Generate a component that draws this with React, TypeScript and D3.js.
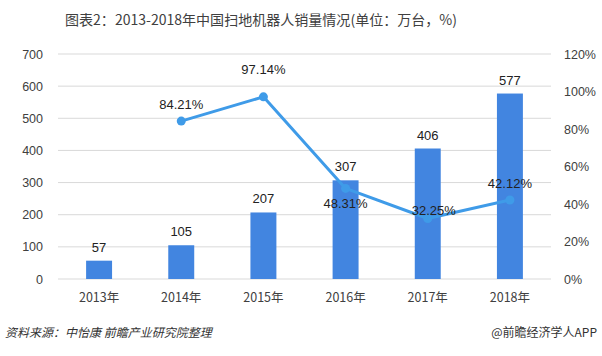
import React from "react";
import * as d3 from "d3";

const categories = ["2013年", "2014年", "2015年", "2016年", "2017年", "2018年"];
const sales = [57, 105, 207, 307, 406, 577];
const growth: (number | null)[] = [null, 84.21, 97.14, 48.31, 32.25, 42.12];
const leftTicks = [0, 100, 200, 300, 400, 500, 600, 700];
const rightTicks = [0, 20, 40, 60, 80, 100, 120];
// label offsets (dx, dy) relative to point for growth labels
const growthLabelPos = [
  [0, 0],
  [0, -17],
  [0, -27],
  [0, 15],
  [6, -8],
  [0, -17],
];

const W = 602;
const H = 356;
const M = { left: 58, right: 551, top: 54, bottom: 279 };
const FONT = "'Noto Sans CJK SC', 'Microsoft YaHei', sans-serif";
const NUMFONT = "'Liberation Sans', 'Noto Sans', sans-serif";

export default function App() {
  const x = d3.scaleBand<string>().domain(categories).range([M.left, M.right]).paddingInner(0.684).paddingOuter(0.342);
  const yL = d3.scaleLinear().domain([0, 700]).range([M.bottom, M.top]);
  const yR = d3.scaleLinear().domain([0, 120]).range([M.bottom, M.top]);
  const cx = (c: string) => (x(c) ?? 0) + x.bandwidth() / 2;

  const pts = categories
    .map((c, i) => ({ c, v: growth[i], i }))
    .filter((d) => d.v !== null) as { c: string; v: number; i: number }[];
  const line = d3
    .line<{ c: string; v: number }>()
    .x((d) => cx(d.c))
    .y((d) => yR(d.v));

  return (
    <svg width={W} height={H} style={{ position: "absolute", left: 0, top: 0, background: "#fff" }}>
      <text x={261} y={25} textAnchor="middle" fontFamily={FONT} fontSize={14} fill="#404040" textLength={392} lengthAdjust="spacingAndGlyphs">
        图表2：2013-2018年中国扫地机器人销量情况(单位：万台，%)
      </text>
      {leftTicks.map((t) => (
        <g key={"g" + t}>
          <line x1={M.left} x2={M.right} y1={yL(t)} y2={yL(t)} stroke="#d9d9d9" strokeWidth={1} />
          <text x={43} y={yL(t) + 4.5} textAnchor="end" fontFamily={NUMFONT} fontSize={12.5} fill="#404040">
            {t}
          </text>
        </g>
      ))}
      {rightTicks.map((t) => (
        <text key={"r" + t} x={564} y={yR(t) + 4.5} textAnchor="start" fontFamily={NUMFONT} fontSize={12.5} fill="#404040">
          {t + "%"}
        </text>
      ))}
      {categories.map((c, i) => (
        <g key={c}>
          <rect x={x(c)} y={yL(sales[i])} width={x.bandwidth()} height={M.bottom - yL(sales[i])} fill="#4285e0" />
          <text x={cx(c)} y={yL(sales[i]) - 9} textAnchor="middle" fontFamily={NUMFONT} fontSize={13} fill="#222">
            {sales[i]}
          </text>
          <text x={cx(c)} y={302} textAnchor="middle" fontFamily={FONT} fontSize={12.5} fill="#404040">
            {c}
          </text>
        </g>
      ))}
      <path d={line(pts) ?? ""} fill="none" stroke="#3f9be8" strokeWidth={3} strokeLinejoin="round" />
      {pts.map((d) => (
        <circle key={"p" + d.c} cx={cx(d.c)} cy={yR(d.v)} r={4.5} fill="#3f9be8" />
      ))}
      {pts.map((d) => (
        <text
          key={"l" + d.c}
          x={cx(d.c) + growthLabelPos[d.i][0]}
          y={yR(d.v) + growthLabelPos[d.i][1] + 4.5}
          textAnchor="middle"
          fontFamily={NUMFONT}
          fontSize={13}
          fill="#222"
        >
          {d.v.toFixed(2) + "%"}
        </text>
      ))}
      <text x={5} y={337} fontFamily={FONT} fontSize={12} fontStyle="italic" fill="#333">
        资料来源：中怡康 前瞻产业研究院整理
      </text>
      <text x={597} y={337} textAnchor="end" fontFamily={FONT} fontSize={12} fill="#333">
        @前瞻经济学人APP
      </text>
    </svg>
  );
}
